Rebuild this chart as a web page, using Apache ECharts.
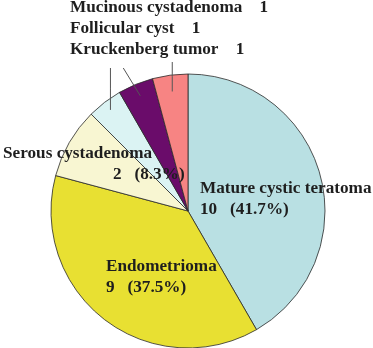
<!DOCTYPE html>
<html>
<head>
<meta charset="utf-8">
<script src="https://cdn.jsdelivr.net/npm/echarts@6/dist/echarts.min.js"></script>
<style>
html,body{margin:0;padding:0;background:#fff;}
#chart{width:373px;height:348px;}
</style>
</head>
<body>
<div id="chart"></div>
<script>
// ---- data ----
const categories = ['Mature cystic teratoma', 'Endometrioma', 'Serous cystadenoma', 'Mucinous cystadenoma', 'Follicular cyst', 'Kruckenberg tumor'];
const counts = [10, 9, 2, 1, 1, 1];
const percents = ['41.7%', '37.5%', '8.3%', '', '', ''];

// ---- style ----
const colors = ['#B9E0E3', '#E8E032', '#F8F6D2', '#DBF3F3', '#6A0C6A', '#F78483'];
const CX = 188, CY = 211, R = 137;
const FONT = '"Liberation Serif", "Times New Roman", serif';
const FS = 17.2;
// label placement (style)
const labelPos = {
  0: {x: 200, y: 199},
  1: {x: 106, y: 277},
  2: {x: 3, y: 164.5},
  3: {x: 70, y: 8},
  4: {x: 70, y: 29},
  5: {x: 70, y: 50}
};
const leaderEndY = {3: 68, 4: 68, 5: 62};
const leaderEndDx = {3: 0, 4: -17, 5: 0};
const leaderK = {3: 0.93, 4: 0.91, 5: 0.88};

const total = counts.reduce((a, b) => a + b, 0);
function midAngle(i) {
  let cum = 0;
  for (let j = 0; j < i; j++) cum += counts[j];
  return 2 * Math.PI * (cum + counts[i] / 2) / total;
}

const baseData = categories.map((name, i) => ({
  name: name,
  value: counts[i],
  itemStyle: {color: colors[i]}
}));

const labelData = categories.map((name, i) => {
  const small = i >= 3;
  let fmt;
  if (i === 2) fmt = '{a|' + name + '}\n{b|' + counts[i] + '   (' + percents[i] + ')}';
  else if (small) fmt = name + '    ' + counts[i];
  else fmt = name + '\n' + counts[i] + '   (' + percents[i] + ')';
  return {
    name: name,
    value: counts[i],
    label: {
      show: true,
      position: small ? 'outside' : 'inside',
      formatter: fmt
    },
    labelLine: {show: small, length: 10, length2: 0}
  };
});

const chart = echarts.init(document.getElementById('chart'), null, {renderer: 'canvas'});
chart.setOption({
  animation: false,
  backgroundColor: '#ffffff',
  series: [{
    type: 'pie',
    z: 2,
    center: [CX, CY],
    radius: [0, R],
    startAngle: 90,
    clockwise: true,
    silent: true,
    label: {show: false},
    labelLine: {show: false},
    itemStyle: {borderColor: '#2a2a2a', borderWidth: 0.8},
    emphasis: {disabled: true},
    data: baseData
  }, {
    type: 'pie',
    z: 5,
    center: [CX, CY],
    radius: [0, R],
    startAngle: 90,
    clockwise: true,
    silent: true,
    avoidLabelOverlap: false,
    itemStyle: {color: 'rgba(0,0,0,0)', borderWidth: 0},
    label: {
      fontFamily: FONT,
      fontWeight: 'bold',
      fontSize: FS,
      lineHeight: 21,
      color: '#1e1e1e',
      align: 'left',
      rich: {
        a: {fontFamily: FONT, fontWeight: 'bold', fontSize: FS, lineHeight: 21, color: '#1e1e1e'},
        b: {fontFamily: FONT, fontWeight: 'bold', fontSize: FS, lineHeight: 21, color: '#1e1e1e', padding: [0, 0, 0, 110]}
      }
    },
    labelLine: {lineStyle: {color: '#555555', width: 1}, smooth: false},
    emphasis: {disabled: true},
    labelLayout: function (params) {
      const i = params.dataIndex;
      const p = labelPos[i];
      const out = {x: p.x, y: p.y, align: 'left', verticalAlign: 'middle'};
      if (i >= 3) {
        const a = midAngle(i);
        const sx = CX + leaderK[i] * R * Math.sin(a);
        const sy = CY - leaderK[i] * R * Math.cos(a);
        out.labelLinePoints = [[sx, sy], [sx + leaderEndDx[i] / 2, (sy + leaderEndY[i]) / 2], [sx + leaderEndDx[i], leaderEndY[i]]];
      }
      return out;
    },
    data: labelData
  }]
});
</script>
</body>
</html>
